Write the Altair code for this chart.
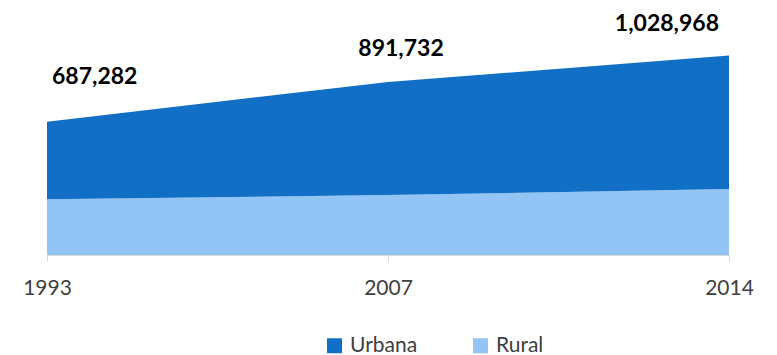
import altair as alt
import pandas as pd

years = ["1993", "2007", "2014"]
rural = [288000, 309000, 340000]
urbana = [399282, 582732, 688968]
totals = [687282, 891732, 1028968]
series = ["Urbana", "Rural"]
colors = ["#1170C6", "#92C5F5"]

rows = []
for i, yr in enumerate(years):
    rows.append({"year": yr, "serie": "Rural", "value": rural[i], "ord": 0})
    rows.append({"year": yr, "serie": "Urbana", "value": urbana[i], "ord": 1})
df = pd.DataFrame(rows)
tot = pd.DataFrame({"year": years, "total": totals,
                    "label": [f"{t:,}" for t in totals]})

YMAX = 1221650
xs = alt.Scale(type="point", padding=0)
ys = alt.Scale(domain=[0, YMAX], nice=False, zero=True)

area = alt.Chart(df).mark_area(opacity=1, interpolate="linear").encode(
    x=alt.X("year:O", scale=xs, sort=years,
            axis=alt.Axis(title=None, labelAngle=0, labelFont="Lato", labelFontSize=21,
                          labelColor="#404040", domainColor="#D9D9D9", tickColor="#D9D9D9",
                          tickSize=6, labelPadding=16, grid=False)),
    y=alt.Y("value:Q", stack="zero", scale=ys, axis=None),
    color=alt.Color("serie:N", scale=alt.Scale(domain=series, range=colors),
                    legend=alt.Legend(title=None, orient="none", direction="horizontal",
                                      legendX=277, legendY=317, padding=0,
                                      symbolType="square", symbolSize=225,
                                      symbolStrokeWidth=0, labelFont="Lato",
                                      labelFontSize=21, labelColor="#404040",
                                      labelOffset=5, columnPadding=52)),
    order=alt.Order("ord:Q"),
)

def lbl(yr, align, dx, dy):
    return alt.Chart(tot).transform_filter(alt.datum.year == yr).mark_text(
        font="Lato", fontWeight="bold", fontSize=23, color="#000000",
        align=align, baseline="alphabetic", dx=dx, dy=dy
    ).encode(
        x=alt.X("year:O", scale=xs, sort=years),
        y=alt.Y("total:Q", scale=ys),
        text="label:N",
    )

chart = alt.layer(
    area,
    lbl("1993", "left", 5, -38),
    lbl("2007", "center", 13, -26),
    lbl("2014", "right", -10, -24),
).properties(
    width=682, height=237,
    autosize=alt.AutoSizeParams(type="none"),
    padding={"left": 39, "top": 10, "right": 40, "bottom": 105},
).configure_view(stroke=None)

chart.save("out.html", embed_options={"renderer": "svg", "actions": False})
